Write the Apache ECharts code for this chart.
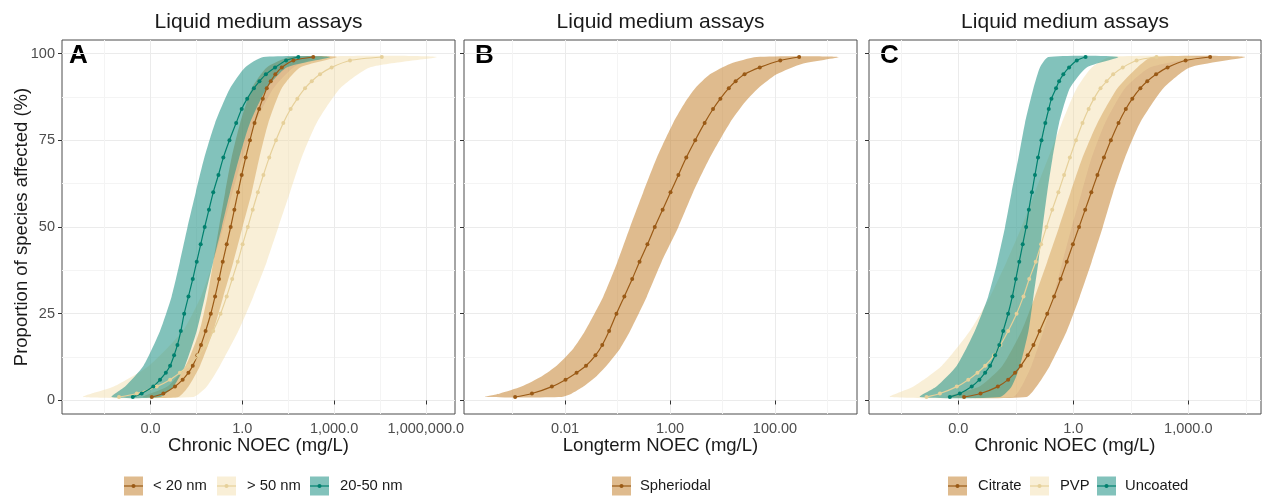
<!DOCTYPE html>
<html><head><meta charset="utf-8">
<script src="https://cdn.jsdelivr.net/npm/echarts@6/dist/echarts.min.js"></script>
<style>html,body{margin:0;padding:0;background:#fff}#c{width:1262px;height:500px}</style>
</head><body><div id="c"></div>
<script>
// Proportion of species affected (%) levels at which values were read
const lineP   = [1,2,4,6,8,10,13,16,20,25,30,35,40,45,50,55,60,65,70,75,80,84,87,90,92,94,96,98,99];
const ribbonP = [1,4,10,20,30,40,50,60,70,80,90,96,99];
const ribbonPB = [1,2,4,7,10,15,20,30,40,50,60,70,80,86,90,94,97,99];

// All concentrations below are log10(mg/L)
// Panel A
const aLt20Line = [-2.96,-2.58,-2.20,-1.95,-1.76,-1.62,-1.47,-1.35,-1.20,-1.03,-0.89,-0.76,-0.64,-0.51,-0.38,-0.26,-0.14,-0.02,0.11,0.25,0.40,0.55,0.67,0.80,0.93,1.08,1.29,1.67,2.32];
const aLt20Lo   = [-3.25,-2.45,-1.85,-1.40,-1.14,-0.95,-0.76,-0.56,-0.35,-0.07,0.31,0.80,1.56];
const aLt20Hi   = [-2.09,-1.76,-1.38,-0.95,-0.62,-0.29,0.01,0.31,0.56,0.85,1.29,1.89,3.09];
const aGt50Line = [-4.03,-3.45,-2.80,-2.36,-2.04,-1.76,-1.44,-1.19,-0.95,-0.71,-0.51,-0.33,-0.15,0.01,0.18,0.34,0.51,0.69,0.88,1.10,1.34,1.58,1.80,2.05,2.27,2.54,2.92,3.52,4.56];
const aGt50Lo   = [-5.20,-4.20,-3.05,-1.95,-1.35,-0.95,-0.62,-0.32,0.01,0.42,1.02,1.67,2.54];
const aGt50Hi   = [-1.60,-1.16,-0.73,-0.13,0.36,0.80,1.18,1.56,1.94,2.43,3.20,4.17,6.35];
const aMidLine  = [-3.58,-3.29,-2.91,-2.69,-2.50,-2.36,-2.23,-2.12,-2.01,-1.90,-1.76,-1.62,-1.49,-1.36,-1.23,-1.09,-0.95,-0.78,-0.62,-0.42,-0.20,-0.02,0.16,0.38,0.56,0.77,1.07,1.43,1.83];
const aMidLo    = [-4.27,-3.83,-3.23,-2.69,-2.31,-2.04,-1.79,-1.52,-1.24,-0.89,-0.40,0.09,0.69];
const aMidHi    = [-2.69,-2.25,-1.87,-1.49,-1.22,-0.95,-0.67,-0.40,-0.10,0.25,0.80,1.45,2.87];
// Panel B
const bSphLine = [-2.95,-2.63,-2.25,-1.99,-1.78,-1.60,-1.42,-1.29,-1.16,-1.02,-0.87,-0.72,-0.58,-0.43,-0.29,-0.14,0.01,0.16,0.31,0.48,0.66,0.82,0.96,1.12,1.25,1.42,1.71,2.10,2.46];
const bSphLo   = [-3.52,-3.24,-2.83,-2.44,-2.16,-1.84,-1.62,-1.27,-1.00,-0.76,-0.51,-0.25,0.06,0.29,0.48,0.76,1.14,1.65];
const bSphHi   = [-2.06,-1.87,-1.65,-1.40,-1.21,-0.95,-0.76,-0.44,-0.16,0.16,0.44,0.76,1.14,1.43,1.68,2.03,2.51,3.21];
// Panel C
const cCitLine = [-2.85,-2.42,-1.97,-1.70,-1.52,-1.37,-1.19,-1.04,-0.88,-0.68,-0.50,-0.33,-0.17,-0.01,0.15,0.31,0.47,0.63,0.80,0.98,1.18,1.37,1.54,1.75,1.93,2.16,2.46,2.93,3.57];
const cCitLo   = [-3.30,-2.45,-1.85,-1.35,-1.00,-0.68,-0.37,-0.07,0.24,0.63,1.15,1.67,2.05];
const cCitHi   = [-1.22,-0.96,-0.61,-0.17,0.17,0.48,0.77,1.04,1.35,1.74,2.35,3.04,4.48];
const cPvpLine = [-3.83,-3.48,-3.04,-2.74,-2.50,-2.30,-2.07,-1.90,-1.70,-1.48,-1.30,-1.15,-0.98,-0.84,-0.70,-0.55,-0.39,-0.24,-0.09,0.07,0.24,0.40,0.54,0.71,0.87,1.04,1.29,1.65,2.17];
const cPvpLo   = [-4.78,-4.17,-3.43,-2.70,-2.17,-1.74,-1.35,-1.00,-0.65,-0.30,0.09,0.48,0.96];
const cPvpHi   = [-1.57,-1.35,-1.09,-0.78,-0.52,-0.28,-0.04,0.22,0.48,0.83,1.35,2.00,3.22];
const cUncLine = [-3.22,-2.96,-2.65,-2.45,-2.30,-2.17,-2.04,-1.93,-1.83,-1.70,-1.59,-1.50,-1.41,-1.32,-1.23,-1.16,-1.08,-1.00,-0.92,-0.83,-0.73,-0.64,-0.57,-0.45,-0.37,-0.26,-0.11,0.09,0.32];
const cUncLo   = [-4.00,-3.57,-3.04,-2.57,-2.22,-1.98,-1.78,-1.61,-1.43,-1.26,-1.04,-0.87,-0.65];
const cUncHi   = [-1.91,-1.61,-1.39,-1.17,-1.04,-0.91,-0.80,-0.68,-0.54,-0.37,-0.09,0.35,1.17];

// Tick values and labels
const acTicks = [0.001, 1, 1000, 1000000];
const acLabels = ['0.0', '1.0', '1,000.0', '1,000,000.0'];
const bTicks = [0.01, 1, 100];
const bLabels = ['0.01', '1.00', '100.00'];
const acMinor = [Math.pow(10,-7.5), Math.pow(10,-4.5), Math.pow(10,-1.5), Math.pow(10,1.5), Math.pow(10,4.5)];
const bMinor = [0.001, 0.1, 10, 1000];
const yTicks = [0, 25, 50, 75, 100];
const yMinor = [12.5, 37.5, 62.5, 87.5];
const legendA = ['< 20 nm', '> 50 nm', '20-50 nm'];
const legendB = ['Spheriodal'];
const legendC = ['Citrate', 'PVP', 'Uncoated'];

const BROWN = {line:'#9a5a16', fill:'rgba(196,132,50,0.55)'};
const CREAM = {line:'#e6d09a', fill:'rgba(240,218,160,0.42)'};
const TEAL  = {line:'#01806e', fill:'rgba(40,150,138,0.58)'};

const FONT = '"Liberation Sans", Arial, sans-serif';
const P10 = v => Math.pow(10, v);

const grids = [
  {left:62, top:40, width:393, height:374},
  {left:464, top:40, width:393, height:374},
  {left:869, top:40, width:392, height:374}
];
const xRanges = [[-5.894, 6.953], [-3.924, 3.562], [-5.33, 4.897]];

function fmtFactory(ticks, labels){
  return function(v){
    const lv = Math.log10(v);
    for (let i=0;i<ticks.length;i++) if (Math.abs(Math.log10(ticks[i]) - lv) < 0.01) return labels[i];
    return '';
  };
}

const xAxis = [], yAxis = [];
[[acTicks,acLabels,acMinor],[bTicks,bLabels,bMinor],[acTicks,acLabels,acMinor]].forEach((t,gi)=>{
  const r = xRanges[gi];
  xAxis.push({type:'log', logBase:10, gridIndex:gi, min:P10(r[0]), max:P10(r[1]),
    axisLine:{show:false},
    axisTick:{show:true, length:4, lineStyle:{color:'#333', width:1}, customValues:t[0]},
    axisLabel:{show:true, customValues:t[0], formatter:fmtFactory(t[0],t[1]), color:'#4d4d4d', fontSize:14.5, fontFamily:FONT, margin:7, showMinLabel:true, showMaxLabel:true},
    splitLine:{show:true, lineStyle:{color:'#ebebeb', width:1}}
  });
  xAxis.push({type:'log', logBase:10, gridIndex:gi, min:P10(r[0]), max:P10(r[1]),
    axisLine:{show:false}, axisTick:{show:false, customValues:t[2]}, axisLabel:{show:false},
    splitLine:{show:true, lineStyle:{color:'#f4f4f4', width:1}}
  });
  yAxis.push({type:'value', gridIndex:gi, min:-3.9, max:103.9,
    axisLine:{show:false},
    axisTick:{show:true, length:4, lineStyle:{color:'#333', width:1}, customValues:yTicks},
    axisLabel:{show:gi===0, customValues:yTicks, color:'#4d4d4d', fontSize:14.5, fontFamily:FONT, margin:7},
    splitLine:{show:true, lineStyle:{color:'#ebebeb', width:1}}
  });
  yAxis.push({type:'value', gridIndex:gi, min:-3.9, max:103.9,
    axisLine:{show:false}, axisTick:{show:false, customValues:yMinor}, axisLabel:{show:false},
    splitLine:{show:true, lineStyle:{color:'#f4f4f4', width:1}}
  });
});

function ribbon(gi, pArr, lo, hi, col){
  return {type:'custom', xAxisIndex:gi*2, yAxisIndex:gi*2, clip:true, silent:true, z:2,
    data:[[P10((lo[6]+hi[6])/2), 50]],
    renderItem:function(params, api){
      const pts = [];
      for (let i=0;i<pArr.length;i++) pts.push(api.coord([P10(lo[i]), pArr[i]]));
      for (let i=pArr.length-1;i>=0;i--) pts.push(api.coord([P10(hi[i]), pArr[i]]));
      return {type:'polygon', shape:{points:pts, smooth:0.2}, style:{fill:col.fill, stroke:null}};
    }
  };
}
function curve(gi, vals, col){
  return {type:'line', xAxisIndex:gi*2, yAxisIndex:gi*2, silent:true, z:3,
    data: lineP.map((p,i)=>[P10(vals[i]), p]),
    smooth:0.25, symbol:'circle', symbolSize:4, showSymbol:true, showAllSymbol:true,
    lineStyle:{color:col.line, width:1.2}, itemStyle:{color:col.line}
  };
}

const series = [
  ribbon(0, ribbonP, aLt20Lo, aLt20Hi, BROWN),
  ribbon(0, ribbonP, aGt50Lo, aGt50Hi, CREAM),
  ribbon(0, ribbonP, aMidLo, aMidHi, TEAL),
  curve(0, aLt20Line, BROWN), curve(0, aGt50Line, CREAM), curve(0, aMidLine, TEAL),
  ribbon(1, ribbonPB, bSphLo, bSphHi, BROWN),
  curve(1, bSphLine, BROWN),
  ribbon(2, ribbonP, cCitLo, cCitHi, BROWN),
  ribbon(2, ribbonP, cPvpLo, cPvpHi, CREAM),
  ribbon(2, ribbonP, cUncLo, cUncHi, TEAL),
  curve(2, cCitLine, BROWN), curve(2, cPvpLine, CREAM), curve(2, cUncLine, TEAL)
];

const graphic = [];
function txt(text, x, y, size, opts){
  graphic.push(Object.assign({type:'text', x:x, y:y, silent:true,
    style:{text:text, font:(opts&&opts.bold?'bold ':'')+size+'px '+FONT, fill:(opts&&opts.fill)||'#1a1a1a', textAlign:(opts&&opts.align)||'center', textVerticalAlign:'middle'}},
    (opts&&opts.rotation)?{rotation:opts.rotation}:{}));
}
const centers = [258.5, 660.5, 1065];
centers.forEach(c=>txt('Liquid medium assays', c, 22, 21));
txt('Chronic NOEC (mg/L)', centers[0], 446, 18.5);
txt('Longterm NOEC (mg/L)', centers[1], 446, 18.5);
txt('Chronic NOEC (mg/L)', centers[2], 446, 18.5);
txt('Proportion of species affected (%)', 22, 227, 18.5, {rotation:Math.PI/2});
txt('A', 69, 56, 26, {bold:true, align:'left', fill:'#000'});
txt('B', 475, 56, 26, {bold:true, align:'left', fill:'#000'});
txt('C', 880, 56, 26, {bold:true, align:'left', fill:'#000'});

function legendItem(label, kx, tx, col){
  const ky = 476.5, ks = 19;
  graphic.push({type:'rect', silent:true, shape:{x:kx, y:ky, width:ks, height:ks}, style:{fill:col.fill}});
  graphic.push({type:'line', silent:true, shape:{x1:kx, y1:ky+ks/2, x2:kx+ks, y2:ky+ks/2}, style:{stroke:col.line, lineWidth:1.2}});
  graphic.push({type:'circle', silent:true, shape:{cx:kx+ks/2, cy:ky+ks/2, r:2}, style:{fill:col.line}});
  txt(label, tx, ky+ks/2, 14.8, {align:'left'});
}
legendItem(legendA[0], 124, 153, BROWN);
legendItem(legendA[1], 217, 247, CREAM);
legendItem(legendA[2], 310, 340, TEAL);
legendItem(legendB[0], 612, 640, BROWN);
legendItem(legendC[0], 948, 978, BROWN);
legendItem(legendC[1], 1030, 1060, CREAM);
legendItem(legendC[2], 1097, 1125, TEAL);

const chart = echarts.init(document.getElementById('c'), null, {renderer:'canvas'});
chart.setOption({
  animation:false,
  backgroundColor:'#fff',
  grid: grids.map(g=>Object.assign({show:true, borderColor:'#4d4d4d', borderWidth:1, backgroundColor:'transparent', containLabel:false}, g)),
  xAxis: xAxis, yAxis: yAxis, series: series, graphic: graphic
});
</script></body></html>
